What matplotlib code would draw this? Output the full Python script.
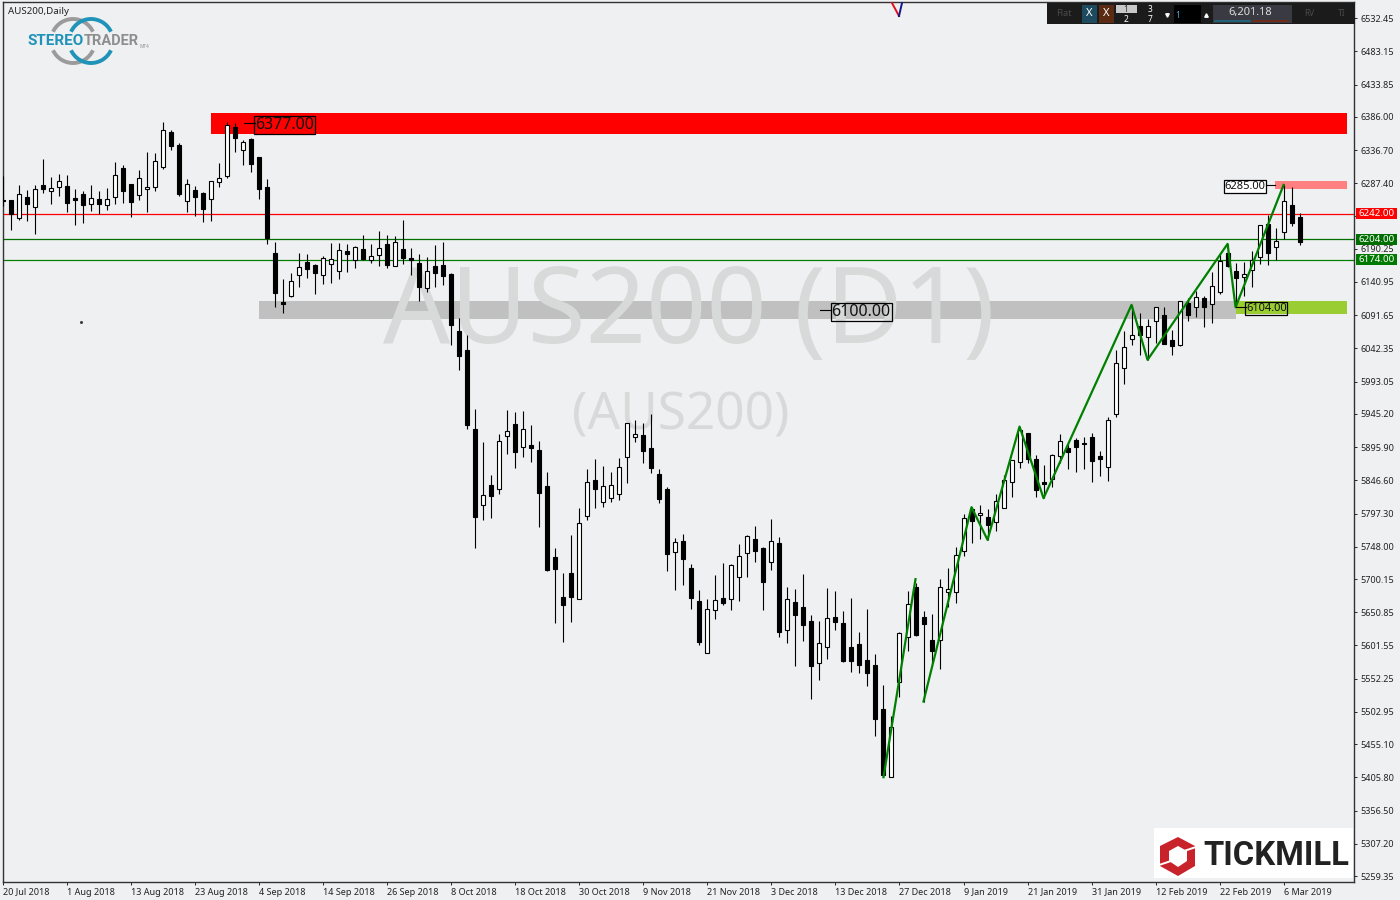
import matplotlib
matplotlib.use('Agg')
from matplotlib import pyplot as plt
from matplotlib import patches, transforms

plt.rcParams['font.family'] = ['Noto Sans', 'DejaVu Sans']

BG = '#eff0f2'

opens = [6262, 6262.8, 6236.6, 6266.7, 6251.9, 6285, 6276.6, 6281.6, 6283.5, 6265.2,
         6271.7, 6256.3, 6263.8, 6255.9, 6266.7, 6310.3, 6286.5, 6270.7, 6278.6, 6282.5,
         6312.2, 6363.7, 6344.4, 6260.8, 6277.6, 6273.2, 6263.8, 6290, 6298.9, 6370.6,
         6337.5, 6353.3, 6326.6, 6282, 6184.1, 6111.4, 6120.8, 6152, 6170.8, 6166.3,
         6152, 6168.3, 6157.9, 6187, 6174.2, 6190, 6173.2, 6181.6, 6197.5, 6165.3,
         6190, 6176.7, 6169.3, 6132.7, 6164.8, 6166.3, 6153, 6068.4, 6040.2, 5922.5,
         5810.7, 5839.4, 5833.5, 5913.1, 5929.9, 5895.8, 5898.8, 5891.8, 5837.9, 5732.6,
         5673.2, 5708.8, 5671.2, 5794.4, 5847.3, 5815.2, 5821.1, 5827, 5881.9, 5911.6,
         5913.6, 5894.3, 5855.7, 5833.5, 5741, 5756.3, 5716.2, 5667.3, 5591.1, 5654.9,
         5671.7, 5671.2, 5703.9, 5739.5, 5759.3, 5745.9, 5726.1, 5753.3, 5623.8, 5665.8,
         5658.4, 5637.6, 5576.3, 5600, 5643.5, 5634.6, 5599, 5603.5, 5579.7, 5572.3,
         5507, 5407.1, 5548.1, 5613.9, 5688.1, 5644, 5609.9, 5609.4, 5680.6, 5680.6,
         5741.5, 5803.8, 5794.9, 5791.9, 5784.5, 5806.3, 5843.8, 5873.5, 5916.6, 5878,
         5844.3, 5848.3, 5882.4, 5894.3, 5906.2, 5902.2, 5910.6, 5882.4, 5866.1, 5944.8,
         6013, 6057, 6075.8, 6059, 6082.7, 6092.1, 6054.5, 6048.1, 6109.5, 6103.5,
         6116.9, 6108, 6126.8, 6184.1, 6157, 6148, 6159.4, 6178.7, 6227.2, 6193.5,
         6214.8, 6255.4, 6237.6]
closes = [6261, 6242, 6271.2, 6257.3, 6278.6, 6279.6, 6280.1, 6290.5, 6258.8, 6262.8,
          6255.9, 6265.2, 6257.3, 6263.8, 6299.4, 6276.6, 6260.3, 6294.9, 6281.6, 6320.1,
          6366.1, 6343.4, 6271.7, 6286, 6267.7, 6249.9, 6290.5, 6294.9, 6373.6, 6355.3,
          6348.3, 6316.7, 6279.6, 6206.9, 6125.3, 6109, 6142.1, 6162.9, 6160.9, 6155,
          6176.2, 6174.7, 6188, 6183.1, 6193, 6175.2, 6179.2, 6191, 6166.3, 6200,
          6176.7, 6173.7, 6133.7, 6157, 6155, 6150, 6077.3, 6031.3, 5929.4, 5791.9,
          5824.6, 5824.1, 5904.7, 5919.5, 5889.4, 5922.5, 5895.3, 5828.5, 5713.8, 5715.7,
          5662.3, 5674.2, 5783, 5843.9, 5834.5, 5837.9, 5839.4, 5866.1, 5931.4, 5915.1,
          5890.8, 5865.1, 5819.6, 5738, 5754.8, 5730.6, 5672.7, 5607.4, 5655.4, 5668.8,
          5665.3, 5720.7, 5734, 5763.7, 5742.5, 5696.5, 5756.3, 5622.3, 5670.3, 5647.5,
          5632.6, 5571.8, 5604.9, 5642, 5637.1, 5579.2, 5579.2, 5573.3, 5560, 5493.2,
          5410.1, 5480.3, 5619.8, 5662.8, 5617.3, 5634.1, 5594.1, 5688.1, 5685.1, 5735.5,
          5790.4, 5787, 5797.9, 5781, 5815.6, 5846.8, 5876.5, 5921.5, 5879, 5833,
          5841.9, 5883.9, 5904.7, 5888.4, 5896.8, 5900.7, 5876, 5879, 5936.3, 6020.4,
          6044.2, 6062, 6063, 6075.3, 6103.5, 6049.6, 6045.6, 6112.4, 6092.6, 6118.4,
          6104.5, 6134.7, 6171.8, 6165.3, 6147.5, 6152.5, 6174.2, 6225.2, 6184.6, 6201.5,
          6260.8, 6229.1, 6201]
highs = [6298.4, 6263, 6285, 6277.6, 6285, 6323.6, 6296.4, 6301.3, 6299.9, 6279.1,
         6276.1, 6285, 6276, 6280.6, 6319.1, 6314.7, 6286.5, 6307.3, 6334, 6332,
         6378.5, 6366.6, 6346.9, 6293.9, 6283.5, 6274.6, 6290.5, 6317.7, 6378.5, 6376.5,
         6351.8, 6354.3, 6326.6, 6293.9, 6200.4, 6145.5, 6154.5, 6184.1, 6182.6, 6167.8,
         6179.7, 6199, 6199, 6197.5, 6194.5, 6210.8, 6197.5, 6216.8, 6210.8, 6209.3,
         6233.1, 6191.5, 6182.6, 6178.2, 6196, 6200.4, 6154.5, 6087.7, 6062.5, 5952.2,
         5903.7, 5854.2, 5915.1, 5951.2, 5947.7, 5949.2, 5928.4, 5905.2, 5858.7, 5745.9,
         5708.8, 5765.2, 5805.3, 5863.1, 5878, 5867.6, 5858.7, 5879.5, 5931.4, 5935.8,
         5931.4, 5944.8, 5863.1, 5836.4, 5760.7, 5766.7, 5722.2, 5683.6, 5670.3, 5705.9,
         5723.7, 5722.2, 5751.9, 5765.2, 5778.6, 5747.4, 5788.9, 5762.2, 5688, 5685.1,
         5707.4, 5646.5, 5637.6, 5686.6, 5682.1, 5652.4, 5671.7, 5621.3, 5655.4, 5588.6,
         5542.6, 5496.6, 5621.3, 5682.1, 5694, 5652.4, 5648, 5699.9, 5716.2, 5747.4,
         5796.9, 5806.8, 5810.2, 5803.8, 5826.5, 5854.2, 5877, 5926.4, 5916.6, 5884.4,
         5869, 5885.4, 5915.6, 5900.7, 5909.1, 5910.6, 5916.6, 5889.8, 5940.8, 6040.2,
         6067.9, 6107, 6094.6, 6085.7, 6103.5, 6104, 6069.9, 6112.4, 6116.9, 6128.3,
         6120.3, 6156, 6183.6, 6197.5, 6168.8, 6170.3, 6187.1, 6225.2, 6241, 6221.2,
         6285, 6281.6, 6243.5]
lows = [6253.9, 6218.2, 6233.1, 6232.1, 6212.3, 6273.7, 6256.8, 6268.7, 6245, 6225.7,
        6228.6, 6246.4, 6242, 6247.9, 6256.8, 6258.3, 6237.5, 6262.8, 6245, 6276.1,
        6309.3, 6337, 6268.7, 6245, 6239, 6230.1, 6232.1, 6282, 6295.4, 6334,
        6314.7, 6304.3, 6264.2, 6197.5, 6104, 6095.1, 6118.8, 6133.7, 6147, 6123.3,
        6138.1, 6139.6, 6145.5, 6156, 6161.9, 6173.7, 6169.3, 6164.8, 6161.9, 6165.3,
        6167.8, 6151.5, 6113, 6126.3, 6133.7, 6136.7, 6048, 6010.5, 5923.5, 5746.9,
        5788.5, 5791.4, 5826.5, 5885.9, 5865.1, 5881.4, 5874, 5778.1, 5712.3, 5635.1,
        5606.9, 5636.6, 5671.2, 5787.9, 5805.8, 5807.3, 5814.7, 5817.6, 5842.9, 5903.7,
        5872.5, 5857.7, 5813.2, 5712.3, 5684.1, 5691.5, 5655.9, 5602.5, 5591.1, 5641.1,
        5661.8, 5654.4, 5667.8, 5703.4, 5725.6, 5654.4, 5713.8, 5614.4, 5605.4, 5571.3,
        5608.4, 5522.4, 5550.6, 5581.7, 5624.7, 5577.3, 5562.4, 5561.4, 5542.1, 5467.5,
        5406.1, 5407.1, 5525.8, 5594.1, 5615.8, 5518.4, 5573.8, 5566.9, 5659.3, 5665.3,
        5733.6, 5753.8, 5759.8, 5758.3, 5771.6, 5806.3, 5822.1, 5865.1, 5873, 5822.1,
        5820.1, 5837.4, 5872, 5863.6, 5859.2, 5863.6, 5844.3, 5853.2, 5845.8, 5941.3,
        5989.8, 6048.1, 6032.8, 6025.4, 6050.1, 6049.6, 6032.8, 6046.1, 6083.2, 6089.2,
        6074.3, 6080.3, 6123.3, 6162.9, 6103.5, 6120.3, 6133.7, 6167.8, 6166.3, 6173.7,
        6204.4, 6224.7, 6196]

date_labels = ['20 Jul 2018', '1 Aug 2018', '13 Aug 2018', '23 Aug 2018', '4 Sep 2018',
               '14 Sep 2018', '26 Sep 2018', '8 Oct 2018', '18 Oct 2018', '30 Oct 2018',
               '9 Nov 2018', '21 Nov 2018', '3 Dec 2018', '13 Dec 2018', '27 Dec 2018',
               '9 Jan 2019', '21 Jan 2019', '31 Jan 2019', '12 Feb 2019', '22 Feb 2019',
               '6 Mar 2019']
price_ticks = [6532.45, 6483.15, 6433.85, 6386.00, 6336.70, 6287.40, 6239.55, 6190.25,
               6140.95, 6091.65, 6042.35, 5993.05, 5945.20, 5895.90, 5846.60, 5797.30,
               5748.00, 5700.15, 5650.85, 5601.55, 5552.25, 5502.95, 5455.10, 5405.80,
               5356.50, 5307.20, 5259.35]

# zones: first bar, last bar, low price, high price, colour
zone_left = [26, 32, 154, 158.9]
zone_right = [167.9, 154, 167.9, 167.9]
zone_low = [6360.7, 6086.2, 6093.6, 6279.1]
zone_high = [6391.9, 6113.4, 6113, 6291]
zone_colors = ['#ff0000', '#c0c0c0', '#9acd32', '#ff8080']

# zigzags as bar number / price
zig1_bars = [110, 114]
zig1_prices = [5406.1, 5700]
zig2_bars = [115, 121, 123, 127, 130, 141, 143, 153, 154, 160]
zig2_prices = [5518.4, 5806.8, 5758.3, 5926.4, 5820.1, 6107, 6025.4, 6197.5, 6103.5, 6285]

level_prices = [6242, 6204, 6174]
level_colors = ['#ff0000', '#006e00', '#008000']

fig = plt.figure(figsize=(14, 9), dpi=100, facecolor=BG)
ax = fig.add_axes([2.5 / 1400, 1 - 882 / 900, 1351.5 / 1400, 880 / 900], facecolor=BG)
over = fig.add_axes([0, 0, 1, 1], zorder=5)
over.set_xlim(0, 1400)
over.set_ylim(900, 0)
over.axis('off')

ax.set_xlim(-0.1, 168.8)
ax.set_ylim(5250.6, 6556.4)

for l, r, lo, hi, c in zip(zone_left, zone_right, zone_low, zone_high, zone_colors):
    ax.add_patch(patches.Rectangle((l, lo), r - l, hi - lo, fc=c, ec='none', zorder=1))

# watermark sits over the zones but under the candles
ax.text(689, 315, 'AUS200 (D1)', transform=over.transData, fontsize=76, color='#d8dada',
        ha='center', va='center', zorder=2)
ax.text(681, 416, '(AUS200)', transform=over.transData, fontsize=37, color='#d8dada',
        ha='center', va='center', zorder=2)

for p, c in zip(level_prices, level_colors):
    ax.axhline(p, color=c, lw=0.9, zorder=2.5)

for i in range(len(opens)):
    ax.vlines(i, lows[i], highs[i], color='black', lw=0.8, zorder=3)
    up = closes[i] >= opens[i]
    bottom = min(opens[i], closes[i])
    height = abs(closes[i] - opens[i])
    ax.bar(i, height, bottom=bottom, width=0.5, color='white' if up else 'black',
           edgecolor='black', linewidth=0.8, zorder=3.2)

ax.plot(zig1_bars, zig1_prices, color='#008000', lw=1.6, zorder=4)
ax.plot(zig2_bars, zig2_prices, color='#008000', lw=1.6, zorder=4)

# text labels with their little leader lines
def note(bar, price, label, size, fill, lead):
    ax.plot([bar - lead, bar], [price, price], color='black', lw=0.8, zorder=4.5)
    ax.text(bar, price, label, fontsize=size, ha='left', va='center_baseline', color='#111111', zorder=5,
            bbox=dict(boxstyle='square,pad=0.06', fc=fill, ec='black', lw=0.9))

note(31.5, 6377, '6377.00', 11.5, 'none', 1.4)
note(103.5, 6100, '6100.00', 11.5, 'none', 1.4)
note(152.6, 6285, '6285.00', 8, 'white', 0)
ax.plot([157.7, 158.9], [6285, 6285], color='black', lw=0.8, zorder=4.5)
note(155.3, 6104, '6104.00', 8, 'none', 1.2)

# axes
ax.yaxis.tick_right()
ax.set_yticks(price_ticks)
ax.set_yticklabels(['%.2f' % p for p in price_ticks], fontsize=6.5, color='#222222')
ax.set_xticks(range(0, 168, 8))
ax.set_xticklabels(date_labels, fontsize=6.5, color='#222222', ha='left')
nudge = transforms.ScaledTranslation(-1.5 / 100, 0, fig.dpi_scale_trans)
for t in ax.get_xticklabels():
    t.set_transform(t.get_transform() + nudge)
ax.tick_params(axis='y', length=2.5, width=0.7, pad=2.3, color='#222222')
ax.tick_params(axis='x', length=2.5, width=0.7, pad=1.5, color='#222222')
for s in ax.spines.values():
    s.set_color('#333333')
    s.set_linewidth(1)

# current level tags on the price scale
tag_trans = transforms.blended_transform_factory(over.transData, ax.transData)
for p, c in zip(level_prices, ['#ff0000', '#006e00', '#007a00']):
    ax.add_patch(patches.Rectangle((1356, p - 8), 41, 16, fc=c, ec='none', transform=tag_trans,
                                   clip_on=False, zorder=6))
    ax.text(1376.5, p, '%.2f' % p, fontsize=7, color='white', ha='center', va='center',
            transform=tag_trans, clip_on=False, zorder=7)

# things in plain pixel positions
over.text(8, 11, 'AUS200,Daily', fontsize=7, color='#222222', ha='left', va='center')
over.plot([81], [322], marker='s', ms=1, color='#333333')
over.plot([892, 899], [3, 16], color='#e0101a', lw=1.4)
over.plot([902, 899], [3, 16], color='#15158c', lw=1.4)

# stereotrader logo
for cx, c in [(73, '#9b9b9b'), (91, '#1f93b8')]:
    over.add_patch(patches.Arc((cx, 41), 44, 44, theta1=205, theta2=335, color=c, lw=2.8))
    over.add_patch(patches.Arc((cx, 41), 44, 44, theta1=25, theta2=155, color=c, lw=2.8))
over.text(28, 41, 'STEREO', fontsize=11, fontweight='bold', color='#1f93b8', family='Roboto', ha='left', va='center')
over.text(84, 41, 'TRADER', fontsize=10.5, fontweight='bold', color='#8e8e8e', family='Roboto', ha='left', va='center')
over.text(140, 47, 'MT4', fontsize=3.4, color='#8e8e8e', ha='left', va='center')

# tickmill logo
over.add_patch(patches.Rectangle((1154, 828), 199, 50, fc='white', ec='none'))
over.add_patch(patches.Polygon([(1178, 837), (1195, 846), (1195, 866), (1178, 876), (1160, 866), (1160, 846)],
                               fc='#c8232a', ec='none'))
over.add_patch(patches.Polygon([(1178, 846), (1187, 851), (1187, 861), (1178, 867), (1169, 861), (1169, 851)],
                               fc='white', ec='none'))
over.plot([1184, 1196], [851, 847], color='white', lw=1.4)
over.plot([1159, 1171], [865, 861], color='white', lw=1.4)
over.text(1203, 856, 'TICKMILL', fontsize=23.6, fontweight='bold', family='Roboto', color='#222222', ha='left', va='center')

# trade panel
over.add_patch(patches.Rectangle((1047, 3), 308, 21, fc='#1b1b1b', ec='none'))
over.text(1064, 14, 'Flat', fontsize=6.5, color='#4a4a4a', ha='center', va='center')
over.add_patch(patches.Rectangle((1082, 5), 15, 18, fc='#1d4a5e', ec='none'))
over.add_patch(patches.Rectangle((1099, 5), 15, 18, fc='#5a2a12', ec='none'))
over.text(1089.5, 14, 'X', fontsize=8, color='white', ha='center', va='center')
over.text(1106.5, 14, 'X', fontsize=8, color='white', ha='center', va='center')
over.add_patch(patches.Rectangle((1116, 5), 21, 8, fc='#c8c8c8', ec='none'))
over.text(1126, 9, '1', fontsize=6, color='#333333', ha='center', va='center')
over.text(1126, 19, '2', fontsize=6, color='white', ha='center', va='center')
over.text(1150, 9, '3', fontsize=6, color='white', ha='center', va='center')
over.text(1150, 19, '7', fontsize=6, color='white', ha='center', va='center')
over.add_patch(patches.Rectangle((1174, 5), 27, 18, fc='black', ec='none'))
over.text(1178, 15, '1', fontsize=6, color='#4aa8d8', ha='center', va='center')
over.plot([1167], [15], marker='v', ms=2.5, color='white')
over.plot([1206], [15], marker='^', ms=2.5, color='white')
over.add_patch(patches.Rectangle((1213, 5), 79, 18, fc='#3a3a42', ec='none'))
over.text(1250, 13, '6,201.18', fontsize=8, color='#dddddd', ha='center', va='center')
over.plot([1215, 1250], [20.7, 20.7], color='#1d6a85', lw=1.2)
over.plot([1253, 1288], [20.7, 20.7], color='#7a2a12', lw=1.2)
over.text(1309, 14, 'RV', fontsize=6, color='#4a4a4a', ha='center', va='center')
over.text(1342, 14, 'TI', fontsize=6, color='#4a4a4a', ha='center', va='center')

fig.savefig('out.png', dpi=100, facecolor=BG)
